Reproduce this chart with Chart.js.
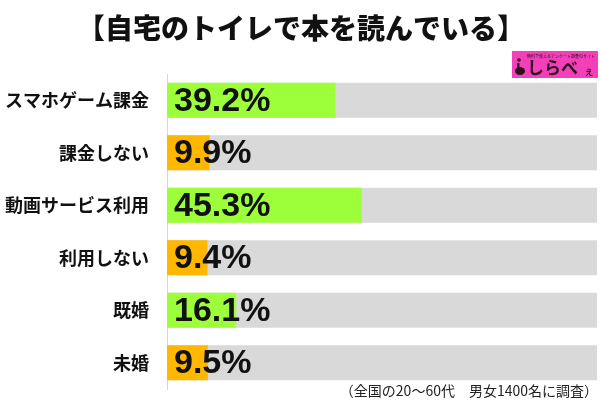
<!DOCTYPE html>
<html><head><meta charset="utf-8">
<script src="https://cdn.jsdelivr.net/npm/chart.js@4"></script>
<style>html,body{margin:0;padding:0;background:#fff}#w{width:600px;height:400px}</style>
</head><body><div id="w"><canvas id="c"></canvas></div>
<script>
const title = '【自宅のトイレで本を読んでいる】';
const categories = ['スマホゲーム課金','課金しない','動画サービス利用','利用しない','既婚','未婚'];
const values = [39.2, 9.9, 45.3, 9.4, 16.1, 9.5];
const fullScale = [100, 100, 100, 100, 100, 100];
const barColors = ['#9cff3a','#ffb700','#9cff3a','#ffb700','#9cff3a','#ffb700'];
const footnote = '（全国の20～60代　男女1400名に調査）';
const logoText = 'しらべ';
const logoSmall = 'ぇ';

const JP = '"Noto Sans CJK JP", "Noto Sans", sans-serif';

const overlay = {
  id: 'overlay',
  afterDatasetsDraw(chart) {
    const ctx = chart.ctx;
    const meta = chart.getDatasetMeta(0);
    ctx.save();
    ctx.fillStyle = '#111';
    ctx.font = 'bold 34px "Liberation Sans", Arial, sans-serif';
    ctx.textBaseline = 'middle';
    ctx.textAlign = 'left';
    meta.data.forEach((bar, i) => {
      ctx.fillText(values[i].toFixed(1) + '%', bar.base + 7, bar.y + 1);
    });
    ctx.restore();
  },
  afterDraw(chart) {
    const ctx = chart.ctx;
    ctx.save();
    ctx.fillStyle = '#111';
    ctx.font = '900 28px ' + JP;
    ctx.textAlign = 'center';
    ctx.textBaseline = 'middle';
    ctx.fillText(title, 301, 28);
    ctx.font = '14px ' + JP;
    ctx.textAlign = 'right';
    ctx.fillStyle = '#222';
    ctx.fillText(footnote, 598, 391);
    // logo
    ctx.fillStyle = '#f43fb8';
    ctx.fillRect(512, 51, 86, 27);
    ctx.fillStyle = '#2a1020';
    ctx.font = '4px ' + JP;
    ctx.textAlign = 'center';
    ctx.fillText('無料で使えるアンケート調査のサイト', 561, 56);
    ctx.beginPath();
    ctx.arc(519, 60, 1.8, 0, Math.PI * 2);
    ctx.fill();
    ctx.beginPath();
    ctx.ellipse(520, 71, 5, 4, 0, 0, Math.PI * 2);
    ctx.fill();
    ctx.fillRect(517, 63, 2.5, 6);
    ctx.font = 'bold 17px ' + JP;
    ctx.textAlign = 'left';
    ctx.fillText(logoText, 527, 68);
    ctx.font = 'bold 10px ' + JP;
    ctx.fillText(logoSmall, 584, 71);
    ctx.restore();
  }
};

new Chart(document.getElementById('c'), {
  type: 'bar',
  data: {
    labels: categories,
    datasets: [
      { data: values, backgroundColor: barColors, order: 0, grouped: false,
        barPercentage: 0.667, categoryPercentage: 1 },
      { data: fullScale, backgroundColor: '#d9d9d9', order: 1, grouped: false,
        barPercentage: 0.667, categoryPercentage: 1 }
    ]
  },
  options: {
    indexAxis: 'y',
    responsive: true,
    maintainAspectRatio: false,
    animation: false,
    layout: { padding: { top: 74, bottom: 11, left: 0, right: 3 } },
    plugins: { legend: { display: false }, tooltip: { enabled: false } },
    scales: {
      x: { display: false, min: 0, max: 100 },
      y: {
        grid: { display: false, drawTicks: false },
        border: { display: true, color: '#d6d6d6', width: 1 },
        ticks: { color: '#111', padding: 18, font: { family: JP, size: 18, weight: 'bold' } },
        afterFit(scale) { scale.width = 167; scale.paddingTop = 0; scale.paddingBottom = 0; }
      }
    }
  },
  plugins: [overlay]
});
</script>
</body></html>
